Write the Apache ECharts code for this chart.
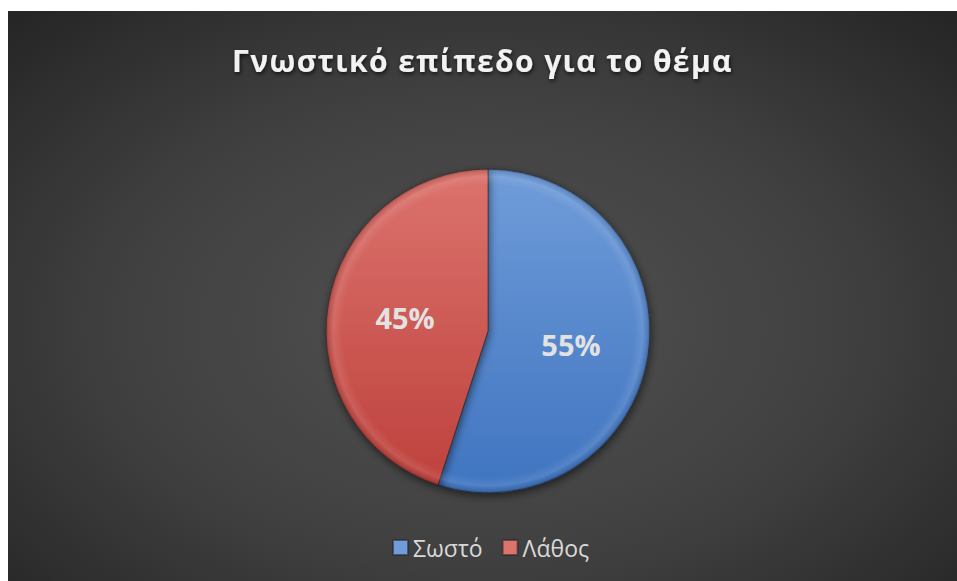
<!DOCTYPE html>
<html>
<head>
<meta charset="utf-8">
<script src="https://cdn.jsdelivr.net/npm/echarts@6/dist/echarts.min.js"></script>
<style>
  html, body { margin: 0; padding: 0; background: #ffffff; }
  #chart {
    position: absolute; left: 8px; top: 11px; width: 949px; height: 570px;
    background: radial-gradient(ellipse 70% 75% at 50% 55%, #525252 0%, #404040 55%, #262626 100%);
  }
</style>
</head>
<body>
<div id="chart"></div>
<script>
// Answers to the knowledge question
const categories = ['Σωστό', 'Λάθος'];
const values = [55, 45];
const titleText = 'Γνωστικό επίπεδο για το θέμα';

const center = [480, 320];
const radius = 162;
const titleSpacing = 1.4; // px between title letters

const sliceColors = [
  { type: 'linear', x: 0, y: center[1] - radius, x2: 0, y2: center[1] + radius, global: true,
    colorStops: [{ offset: 0, color: '#709cd9' }, { offset: 1, color: '#3f74c0' }] },
  { type: 'linear', x: 0, y: center[1] - radius, x2: 0, y2: center[1] + radius, global: true,
    colorStops: [{ offset: 0, color: '#dc736d' }, { offset: 1, color: '#bd403b' }] }
];
const legendColors = ['#4f81c8', '#c9504b'];

const chart = echarts.init(document.getElementById('chart'), null, { renderer: 'svg' });

chart.setOption({
  backgroundColor: 'transparent',
  animation: false,
  title: {
    text: titleText,
    left: 'center',
    top: 29,
    textStyle: {
      fontFamily: 'Open Sans',
      fontSize: 30,
      fontWeight: 'bold',
      color: '#f2f2f2',
      textShadowColor: 'rgba(0,0,0,0.7)',
      textShadowBlur: 4,
      textShadowOffsetX: 1,
      textShadowOffsetY: 2
    }
  },
  legend: {
    data: categories,
    bottom: 17,
    left: 379,
    icon: 'rect',
    itemWidth: 15,
    itemHeight: 15,
    itemGap: 19,
    textStyle: { fontFamily: 'Open Sans', fontSize: 23, color: '#d9d9d9' }
  },
  series: [
    {
      type: 'pie',
      center: center,
      radius: radius,
      startAngle: 90,
      clockwise: true,
      data: categories.map((name, i) => ({
        name: name,
        value: values[i],
        itemStyle: { color: sliceColors[i] }
      })),
      color: legendColors,
      itemStyle: {
        borderColor: 'rgba(40,40,40,0.6)',
        borderWidth: 1,
        shadowColor: 'rgba(0,0,0,0.55)',
        shadowBlur: 8,
        shadowOffsetX: 1,
        shadowOffsetY: 3
      },
      label: {
        show: true,
        position: 'inside',
        formatter: '{d}%',
        fontFamily: 'Open Sans',
        fontSize: 29,
        fontWeight: 'bold',
        color: '#e2e2e2'
      },
      labelLine: { show: false },
      emphasis: { disabled: true }
    },
    {
      // rim bevel overlay
      type: 'pie',
      center: center,
      radius: radius,
      startAngle: 90,
      clockwise: true,
      silent: true,
      legendHoverLink: false,
      data: categories.map((name, i) => ({ name: name, value: values[i] })),
      itemStyle: {
        color: { type: 'radial', x: center[0], y: center[1], r: radius, global: true,
          colorStops: [
            { offset: 0, color: 'rgba(255,255,255,0)' },
            { offset: 0.9, color: 'rgba(255,255,255,0)' },
            { offset: 0.955, color: 'rgba(255,255,255,0.10)' },
            { offset: 0.985, color: 'rgba(0,0,0,0.08)' },
            { offset: 1, color: 'rgba(0,0,0,0.3)' }
          ] },
        borderWidth: 0
      },
      label: { show: false },
      labelLine: { show: false },
      emphasis: { disabled: true },
      tooltip: { show: false }
    }
  ]
});

// Widen the title tracking and keep its centre where it was
document.querySelectorAll('#chart svg text').forEach(function (el) {
  if (el.textContent === titleText) {
    const b0 = el.getBBox();
    el.style.letterSpacing = titleSpacing + 'px';
    const b1 = el.getBBox();
    const shift = (b0.x + b0.width / 2) - (b1.x + b1.width / 2);
    const x = parseFloat(el.getAttribute('x') || '0');
    el.setAttribute('x', x + shift);
  }
});
</script>
</body>
</html>
